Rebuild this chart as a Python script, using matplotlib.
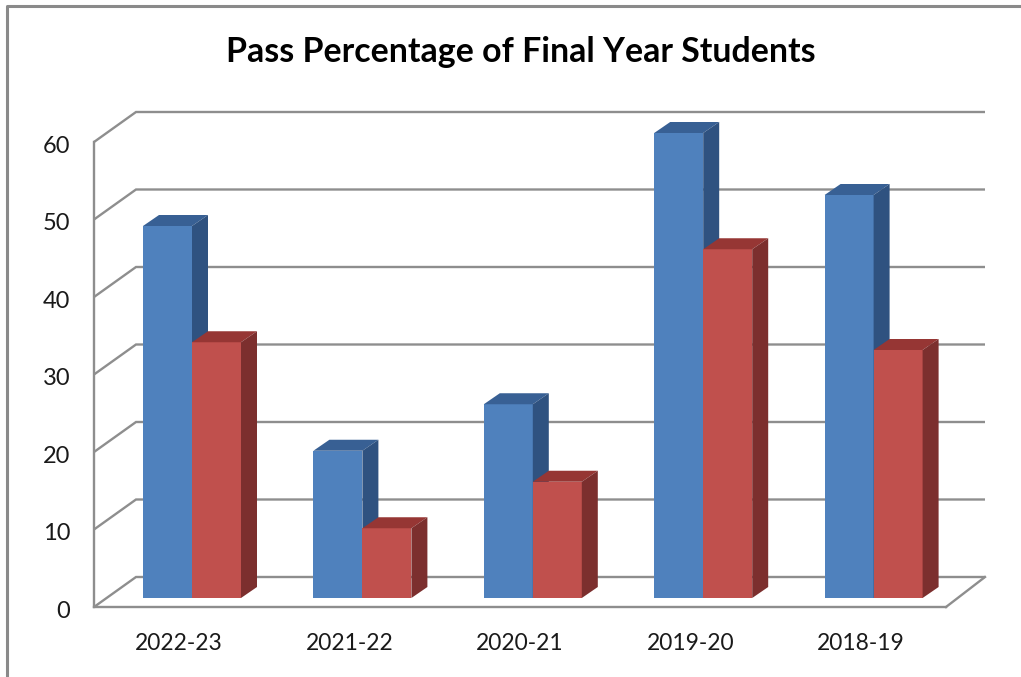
import matplotlib
matplotlib.use('Agg')
import matplotlib.pyplot as plt
from matplotlib.lines import Line2D
from matplotlib.patches import Polygon
from matplotlib.transforms import ScaledTranslation

# values
years = ['2022-23', '2021-22', '2020-21', '2019-20', '2018-19']
series_a = [48, 19, 25, 60, 52]
series_b = [33, 9, 15, 45, 32]
y_ticks = [0, 10, 20, 30, 40, 50, 60]

W, H = 1021, 677
GRID = '#8e8e8e'
FACE_A, TOP_A, SIDE_A = '#4f81bd', '#386094', '#2f5280'
FACE_B, TOP_B, SIDE_B = '#c0504d', '#963634', '#7c2f2e'

plt.rcParams['font.family'] = ['Lato', 'DejaVu Sans']

fig = plt.figure(figsize=(W / 100, H / 100), dpi=100)
fig.patch.set_facecolor('white')

# front plane of the fake 3d box, in pixels
left, right, y_zero, y_top = 94, 946, 607, 142
ax = fig.add_axes([left / W, 1 - y_zero / H, (right - left) / W, (y_zero - y_top) / H])
ax.patch.set_alpha(0)
ax.set_xlim(-0.5, 4.5)
ax.set_ylim(0, 60)

# one pixel in data units
px = 5.0 / (right - left)
py = 60.0 / (y_zero - y_top)

wall_left, wall_right, wall_dy = 42 * px, 39 * px, 30 * py
bar_w = 49 * px
bar_dx, bar_dy = 16 * px, 11 * py
base_dx, base_dy = 12.8 * px, 9 * py

# walls and floor
for t in y_ticks:
    ax.plot([-0.5, -0.5 + wall_left, 4.5 + wall_right], [t, t + wall_dy, t + wall_dy],
            color=GRID, lw=1.7, clip_on=False, zorder=1, solid_joinstyle='miter',
            solid_capstyle='butt')
ax.plot([4.5, 4.5 + wall_right], [0, wall_dy], color=GRID, lw=1.7, clip_on=False, zorder=1)


def draw_bar(x, val, face, top, side, z):
    bx = x + base_dx
    ax.bar(bx, val, bar_w, bottom=base_dy, color=face, lw=0, zorder=z, clip_on=False)
    x0, x1 = bx - bar_w / 2, bx + bar_w / 2
    y0, y1 = base_dy, base_dy + val
    ax.add_patch(Polygon([(x0, y1), (x1, y1), (x1 + bar_dx, y1 + bar_dy), (x0 + bar_dx, y1 + bar_dy)],
                         closed=True, fc=top, lw=0, zorder=z, clip_on=False))
    ax.add_patch(Polygon([(x1, y0), (x1 + bar_dx, y0 + bar_dy), (x1 + bar_dx, y1 + bar_dy), (x1, y1)],
                         closed=True, fc=side, lw=0, zorder=z, clip_on=False))


for i in range(len(years)):
    draw_bar(i - bar_w / 2, series_a[i], FACE_A, TOP_A, SIDE_A, 3)
    draw_bar(i + bar_w / 2, series_b[i], FACE_B, TOP_B, SIDE_B, 4)

ax.set_xticks(range(len(years)))
ax.set_xticklabels(years, fontsize=16.4, color='#1a1a1a')
ax.set_yticks(y_ticks)
ax.tick_params(axis='y', labelsize=17, length=0, pad=17, labelcolor='#1a1a1a')
ax.tick_params(axis='x', length=0, pad=19)

# labels sit a little under their tick in the original
nudge = ScaledTranslation(0, -1.5 / 72, fig.dpi_scale_trans)
for lab in ax.get_yticklabels():
    lab.set_transform(lab.get_transform() + nudge)

for name in ['top', 'right']:
    ax.spines[name].set_visible(False)
for name in ['left', 'bottom']:
    ax.spines[name].set_color(GRID)
    ax.spines[name].set_linewidth(1.7)

fig.text(521 / W, 1 - 52 / H, 'Pass Percentage of Final Year Students', ha='center', va='center',
         fontsize=24.4, fontweight='bold', color='black')

# outer chart frame, only left and top are inside the crop
fig.add_artist(Line2D([7 / W, 7 / W, 1], [0, 1 - 6 / H, 1 - 6 / H], color='#8a8a8a', lw=2.2))

fig.savefig('out.png', dpi=100)
plt.close(fig)
